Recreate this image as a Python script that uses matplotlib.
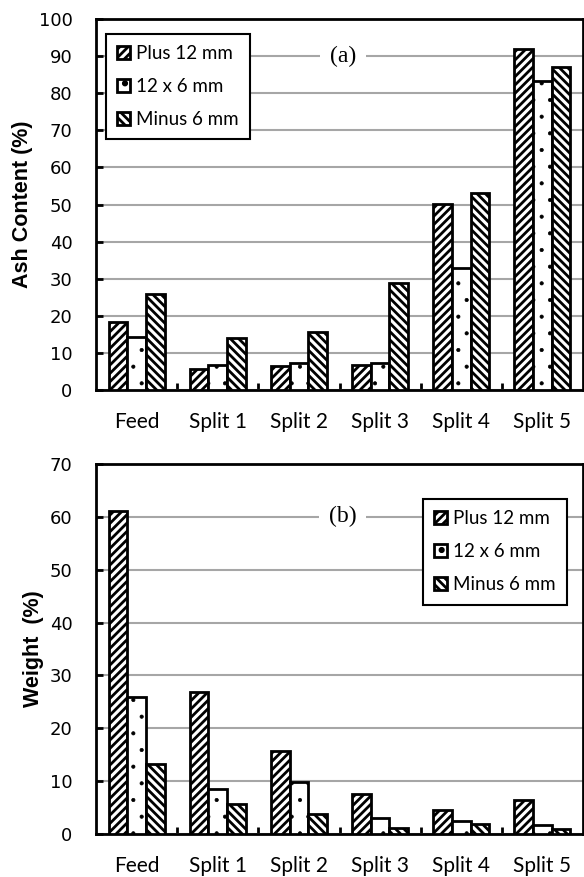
import numpy as np
import matplotlib
matplotlib.use('Agg')
import matplotlib.pyplot as plt
from matplotlib.ticker import MultipleLocator

# data
categories = ['Feed', 'Split 1', 'Split 2', 'Split 3', 'Split 4', 'Split 5']
sizes = ['Plus 12 mm', '12 x 6 mm', 'Minus 6 mm']

ash_plus12 = [18.3, 5.7, 6.6, 6.7, 50.2, 91.8]
ash_12x6 = [14.4, 6.7, 7.4, 7.4, 32.9, 83.4]
ash_minus6 = [26.0, 14.1, 15.6, 28.9, 53.1, 87.0]

wt_plus12 = [61.1, 26.9, 15.8, 7.6, 4.5, 6.4]
wt_12x6 = [25.9, 8.6, 9.8, 3.1, 2.4, 1.7]
wt_minus6 = [13.3, 5.6, 3.8, 1.1, 1.9, 0.9]

plt.rcParams['hatch.linewidth'] = 2.0
label_font = 'Lato'

fig = plt.figure(figsize=(5.84, 8.77), dpi=100)
ax1 = fig.add_axes([0.1644, 0.5553, 0.834, 0.423])
ax2 = fig.add_axes([0.1644, 0.049, 0.834, 0.4219])

hatches = ['////', '.', '\\\\\\\\']
width = 0.23
x = np.arange(len(categories))


def draw(ax, series, ymax, ylabel, tag, tag_y, leg_loc, leg_anchor):
	for i, vals in enumerate(series):
		bars = ax.bar(x + (i - 1) * width, vals, width, color='white', edgecolor='black',
			linewidth=2.0, hatch=hatches[i], label=sizes[i], zorder=3)
		if hatches[i] == '.':
			# tiny dots, thin outline
			for b in bars:
				if hasattr(b, 'set_hatch_linewidth'):
					b.set_hatch_linewidth(0.5)
	ax.set_xlim(-0.5, len(categories) - 0.5)
	ax.set_ylim(0, ymax)
	ax.yaxis.set_major_locator(MultipleLocator(10))
	ax.yaxis.grid(True, color='#a6a6a6', linewidth=1.5, zorder=0)
	ax.set_axisbelow(True)
	ax.set_xticks(x)
	ax.set_xticklabels(categories, fontsize=15, family=label_font)
	ax.set_xticks(x[:-1] + 0.5, minor=True)
	ax.tick_params(axis='x', which='major', length=0, pad=16)
	ax.tick_params(axis='x', which='minor', direction='in', length=5, width=2)
	ax.tick_params(axis='y', direction='in', length=5, width=2, labelsize=13, pad=17)
	for s in ax.spines.values():
		s.set_linewidth(2.0)
	ax.set_ylabel(ylabel, fontsize=15.5, fontweight='bold', family='Liberation Sans', labelpad=4)
	ax.text(0.507, tag_y, tag, transform=ax.transAxes, ha='center', va='center',
		fontsize=17, family='Liberation Serif', zorder=2,
		bbox=dict(facecolor='white', edgecolor='none', pad=7))
	leg = ax.legend(loc=leg_loc, bbox_to_anchor=leg_anchor, borderaxespad=0,
		fancybox=False, framealpha=1, edgecolor='black', handlelength=0.7,
		handleheight=0.7, handletextpad=0.3, labelspacing=0.85, borderpad=0.6,
		prop={'family': label_font, 'size': 13.5})
	leg.get_frame().set_linewidth(1.5)
	for h in leg.legend_handles:
		h.set_linewidth(2.0)


draw(ax1, [ash_plus12, ash_12x6, ash_minus6], 100, 'Ash Content (%)', '(a)', 0.9,
	'upper left', (0.02, 0.96))
draw(ax2, [wt_plus12, wt_12x6, wt_minus6], 70, 'Weight  (%)', '(b)', 60 / 70,
	'upper right', (0.967, 0.905))

fig.savefig('out.png', dpi=100)
